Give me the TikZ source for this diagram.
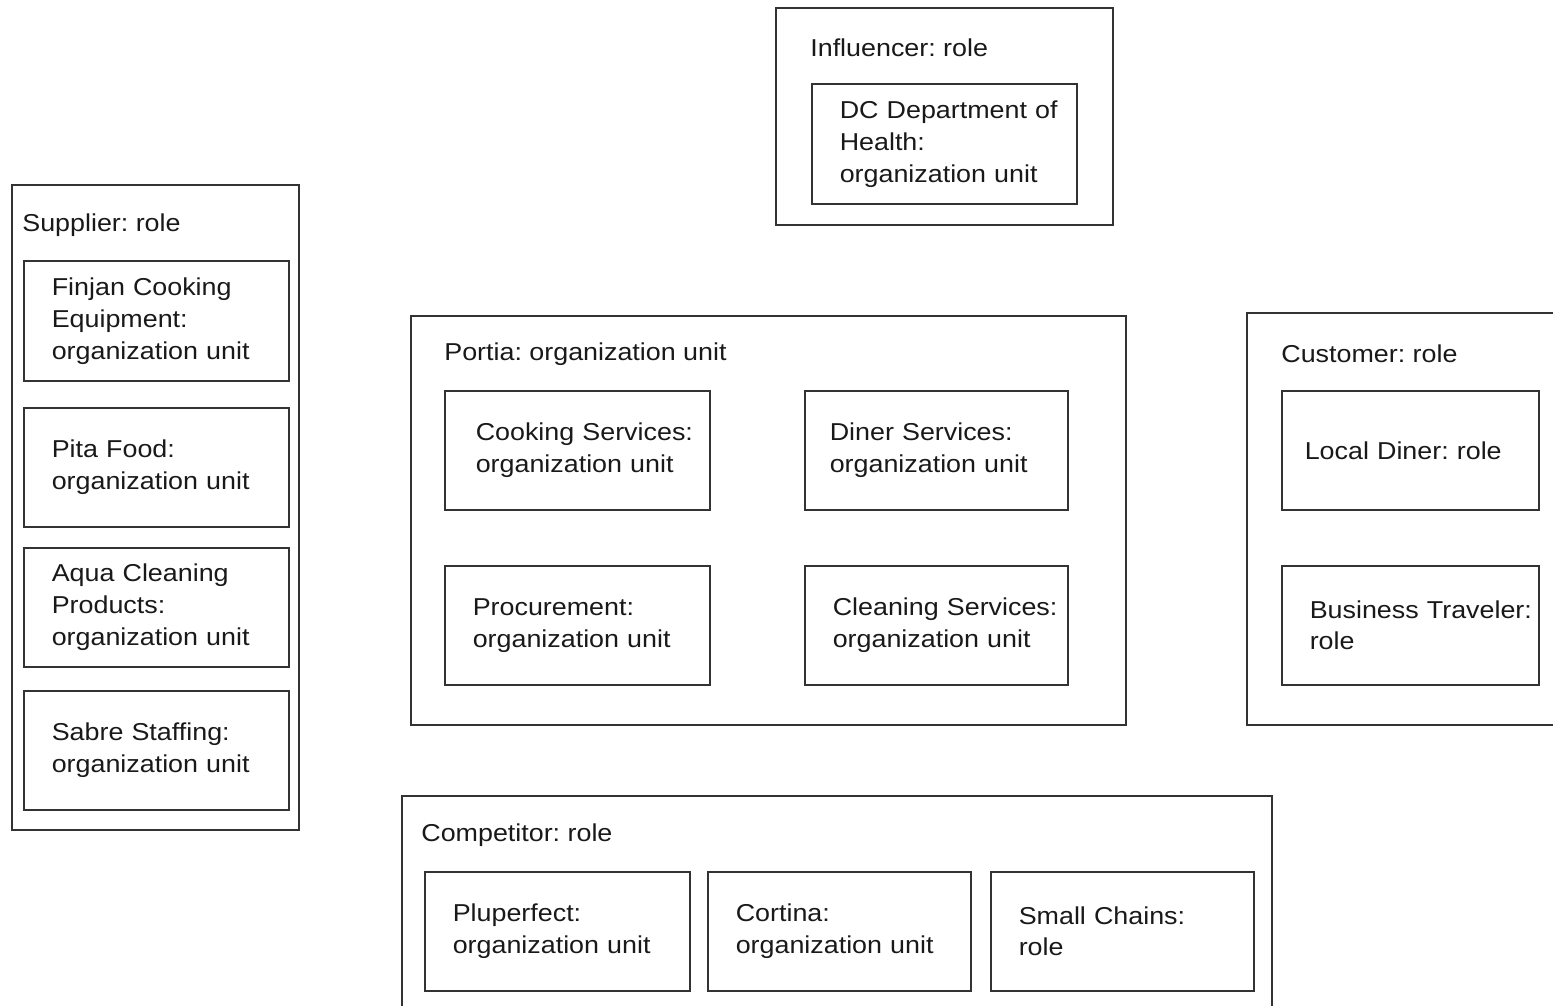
\documentclass[tikz,border=0pt]{standalone}
\usepackage{fontspec}
\setmainfont[FakeStretch=1.1]{Liberation Sans}
\tikzset{>=latex}

\begin{document}
\begin{tikzpicture}[
            x=0.02cm, y=-0.02cm,
            every node/.style={font=\fontsize{13.9}{18.2}\selectfont\frenchspacing, text=black!90},
            container/.style={draw=black!80, line width=0.9pt},
            unitbox/.style={draw=black!80, line width=0.9pt, anchor=north west, minimum height=2.4cm, text width=4.18cm, inner xsep=0.56cm, align=left},
            roletitle/.style={anchor=west, inner sep=0pt}
        ]
            \useasboundingbox (0,0) rectangle (1553,1006);
            % containers
            \coordinate (supplierl) at (12,185);
            \coordinate (supplierr) at (299,830);
            \coordinate (influencerl) at (776,8);
            \coordinate (influencerr) at (1113,225);
            \coordinate (portial) at (411,316);
            \coordinate (portiar) at (1126,725);
            \draw[container] (supplierl) rectangle (supplierr);
            \draw[container] (influencerl) rectangle (influencerr);
            \draw[container] (portial) rectangle (portiar);
            \draw[container] (1553,313) -- (1247,313) -- (1247,725) -- (1553,725);
            \draw[container] (402,1006) -- (402,796) -- (1272,796) -- (1272,1006);
            % label
            \node[roletitle] (suppliert) at (22,225) {Supplier: role};
            \node[roletitle] (influencert) at (810,48) {Influencer: role};
            \node[roletitle] (portiat) at (444,354) {Portia: organization unit};
            \node[roletitle] (customert) at (1281,354) {Customer: role};
            \node[roletitle] (competitort) at (421,835) {Competitor: role};
            % supplier
            \node[unitbox] (finjan) at (23,260) {Finjan Cooking\\Equipment:\\organization unit};
            \node[unitbox, minimum height=2.38cm] (pita) at (23,407) {Pita Food:\\organization unit};
            \node[unitbox, minimum height=2.38cm] (aqua) at (23,547) {Aqua Cleaning\\Products:\\organization unit};
            \node[unitbox, minimum height=2.38cm] (sabre) at (23,690) {Sabre Staffing:\\organization unit};
            % influencer
            \node[unitbox] (dchealth) at (811,83) {\mbox{DC Department of}\\Health:\\organization unit};
            % portia
            \node[unitbox, minimum height=2.38cm, inner xsep=0.62cm, text width=4.06cm] (cooking) at (444,390) {\mbox{Cooking Services:}\\organization unit};
            \node[unitbox, minimum height=2.38cm, inner xsep=0.5cm, text width=4.26cm] (diner) at (804,390) {Diner Services:\\organization unit};
            \node[unitbox, minimum height=2.38cm] (procurement) at (444,565) {Procurement:\\organization unit};
            \node[unitbox, minimum height=2.38cm, text width=4.14cm] (cleaning) at (804,565) {\mbox{Cleaning Services:}\\organization unit};
            % customer
            \node[unitbox, minimum height=2.38cm, inner xsep=0.46cm, text width=4.22cm] (localdiner) at (1281,390) {Local Diner: role};
            \node[unitbox, minimum height=2.38cm, text width=4.02cm] (traveler) at (1281,565) {\mbox{Business Traveler:}\\role};
            % competitor
            \node[unitbox, minimum height=2.38cm] (pluperfect) at (424,871) {Pluperfect:\\organization unit};
            \node[unitbox, minimum height=2.38cm, text width=4.14cm] (cortina) at (707,871) {Cortina:\\organization unit};
            \node[unitbox, minimum height=2.38cm, text width=4.14cm] (chains) at (990,871) {Small Chains:\\role};
        \end{tikzpicture}
\end{document}
